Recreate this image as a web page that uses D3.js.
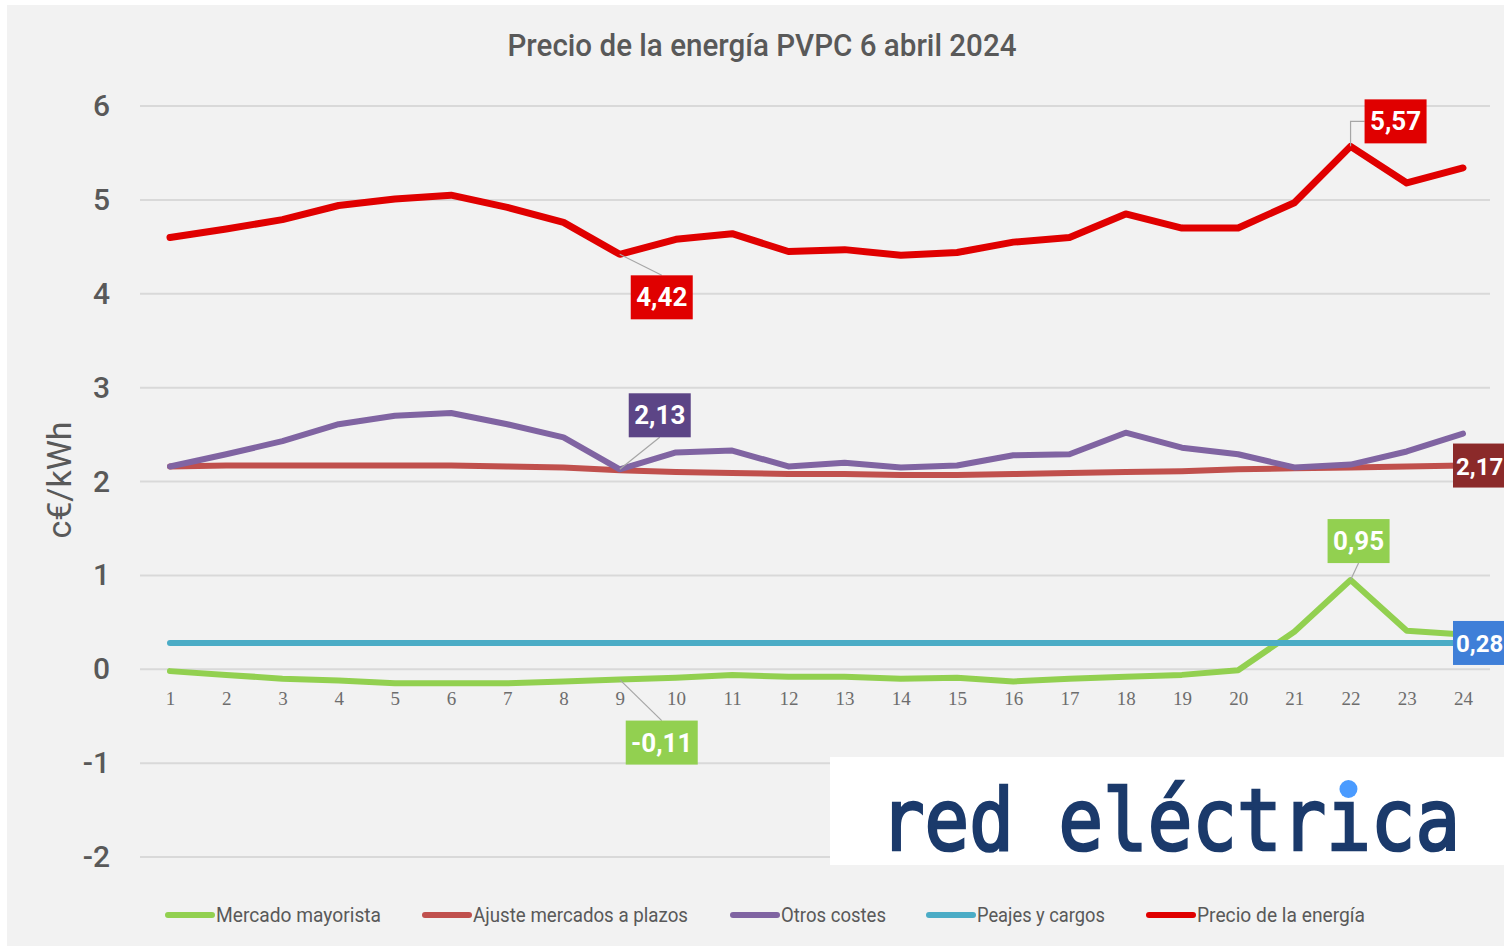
<!DOCTYPE html>
<html>
<head>
<meta charset="utf-8">
<script src="https://cdn.jsdelivr.net/npm/d3@7"></script>
<style>
  body { margin: 0; background: #fff; }
  svg { display: block; }
  text { font-family: "Liberation Sans Narrow", "Roboto", sans-serif; }
</style>
</head>
<body>
<svg id="chart" width="1504" height="946"></svg>
<script>
// datos (c€/kWh por hora)
var horas = [1,2,3,4,5,6,7,8,9,10,11,12,13,14,15,16,17,18,19,20,21,22,23,24];
var mercadoMayorista = [-0.02,-0.06,-0.10,-0.12,-0.15,-0.15,-0.15,-0.13,-0.11,-0.09,-0.06,-0.08,-0.08,-0.10,-0.09,-0.13,-0.10,-0.08,-0.06,-0.01,0.40,0.95,0.41,0.37];
var ajusteMercados = [2.16,2.17,2.17,2.17,2.17,2.17,2.16,2.15,2.12,2.10,2.09,2.08,2.08,2.07,2.07,2.08,2.09,2.10,2.11,2.13,2.14,2.15,2.16,2.17];
var otrosCostes = [2.16,2.29,2.43,2.61,2.70,2.73,2.61,2.47,2.13,2.31,2.33,2.16,2.20,2.15,2.17,2.28,2.29,2.52,2.36,2.29,2.15,2.18,2.32,2.51];
var peajesCargos = [0.28,0.28,0.28,0.28,0.28,0.28,0.28,0.28,0.28,0.28,0.28,0.28,0.28,0.28,0.28,0.28,0.28,0.28,0.28,0.28,0.28,0.28,0.28,0.28];
var precioEnergia = [4.60,4.69,4.79,4.94,5.01,5.05,4.92,4.76,4.42,4.58,4.64,4.45,4.47,4.41,4.44,4.55,4.60,4.85,4.70,4.70,4.97,5.57,5.18,5.34];

var nombres = ["Mercado mayorista","Ajuste mercados a plazos","Otros costes","Peajes y cargos","Precio de la energía"];
var yTicks = [-2,-1,0,1,2,3,4,5,6];

var series = [
  {name: nombres[0], values: mercadoMayorista, color: "#92d050"},
  {name: nombres[1], values: ajusteMercados, color: "#c0504d"},
  {name: nombres[2], values: otrosCostes, color: "#8064a2"},
  {name: nombres[3], values: peajesCargos, color: "#4bacc6"},
  {name: nombres[4], values: precioEnergia, color: "#e00000"}
];

var svg = d3.select("#chart");

// fondo gris
svg.append("rect").attr("x", 7).attr("y", 5).attr("width", 1497).attr("height", 941).attr("fill", "#f2f2f2");

var x = d3.scalePoint().domain(horas).range([170, 1463]);
var y = d3.scaleLinear().domain([-2, 6]).range([857, 106]);

// lineas de rejilla
svg.append("g").selectAll("line").data(yTicks).enter().append("line")
  .attr("x1", 140).attr("x2", 1490)
  .attr("y1", function(d){ return y(d); }).attr("y2", function(d){ return y(d); })
  .attr("stroke", "#d9d9d9").attr("stroke-width", 2);

// eje Y
var gy = svg.append("g").attr("transform", "translate(140,0)")
  .call(d3.axisLeft(y).tickValues(yTicks).tickSize(0).tickPadding(30).tickFormat(function(d){ return String(d); }));
gy.select(".domain").remove();
gy.selectAll("text").attr("font-size", 30).attr("fill", "#595959").attr("font-weight", 500)
  .style("font-family", "Roboto, sans-serif");

// eje X en el cero
var gx = svg.append("g").attr("transform", "translate(0," + y(0) + ")")
  .call(d3.axisBottom(x).tickSize(0).tickPadding(22));
gx.select(".domain").remove();
gx.selectAll("text").attr("font-size", 19).attr("fill", "#6d6d6d")
  .style("font-family", "'Liberation Serif', serif");

// titulo
svg.append("text").attr("x", 762).attr("y", 56).attr("text-anchor", "middle")
  .attr("font-size", 32).attr("fill", "#595959").attr("font-weight", 500)
  .attr("textLength", 509).attr("lengthAdjust", "spacingAndGlyphs")
  .style("font-family", "Roboto, sans-serif")
  .text("Precio de la energía PVPC 6 abril 2024");

// titulo eje Y
svg.append("text").attr("transform", "translate(71,480) rotate(-90)").attr("text-anchor", "middle")
  .attr("font-size", 34).attr("fill", "#595959")
  .style("font-family", "Roboto, sans-serif")
  .text("c€/kWh");

// lineas
var line = d3.line().x(function(d, i){ return x(horas[i]); }).y(function(d){ return y(d); });
svg.append("g").selectAll("path").data(series).enter().append("path")
  .attr("d", function(s){ return line(s.values); })
  .attr("fill", "none").attr("stroke", function(s){ return s.color; })
  .attr("stroke-width", function(s, i){ return i == 4 ? 7 : 6; })
  .attr("stroke-linejoin", "round").attr("stroke-linecap", "round");

// etiquetas de datos
var etiquetas = [
  {s: 4, h: 9, dx: 42, dy: 43, fill: "#e00000", w: 62, leader: "diag", fs: 26},
  {s: 4, h: 22, dx: 45, dy: -25, fill: "#e00000", w: 62, leader: "elbow", fs: 26},
  {s: 2, h: 9, dx: 40, dy: -54, fill: "#5c4586", w: 62, leader: "diag", fs: 26},
  {s: 1, h: 24, dx: 21, dy: 0, fill: "#8b2a2a", w: 62, leader: "edge", fs: 24},
  {s: 0, h: 22, dx: 8, dy: -39, fill: "#92d050", w: 62, leader: "diag", fs: 26},
  {s: 3, h: 24, dx: 21, dy: 0, fill: "#3f7fd8", w: 62, leader: "edge", fs: 24},
  {s: 0, h: 9, dx: 42, dy: 63, fill: "#92d050", w: 72, leader: "diag", fs: 26}
];
var fmt = function(v){ return d3.format(".2f")(v).replace(".", ",").replace("\u2212", "-"); };
var gl = svg.append("g");
etiquetas.forEach(function(e){
  var v = series[e.s].values[e.h - 1];
  var px = x(e.h), py = y(v);
  var cx = px + e.dx, cy = py + e.dy;
  if (e.leader == "diag") {
    gl.append("line").attr("x1", px).attr("y1", py)
      .attr("x2", cx).attr("y2", cy + (e.dy > 0 ? -22 : 22))
      .attr("stroke", "#a6a6a6").attr("stroke-width", 1.2);
  } else if (e.leader == "elbow") {
    gl.append("polyline").attr("points", px + "," + py + " " + px + "," + cy + " " + (cx - e.w / 2) + "," + cy)
      .attr("fill", "none").attr("stroke", "#a6a6a6").attr("stroke-width", 1.2);
  }
  gl.append("rect").attr("x", cx - e.w / 2).attr("y", cy - 22).attr("width", e.w).attr("height", 44)
    .attr("fill", e.fill);
  var t = gl.append("text").attr("y", cy + 9)
    .attr("font-size", e.fs).attr("font-weight", "bold").attr("fill", "#fff")
    .text(fmt(v));
  // las etiquetas del borde derecho se alinean a la izquierda para que quepan
  if (e.leader == "edge") t.attr("x", cx - e.w / 2 + 3).attr("text-anchor", "start");
  else t.attr("x", cx).attr("text-anchor", "middle");
});

// leyenda
var leyX = [165, 422, 730, 926, 1146];
var leyW = [165, 215, 105, 128, 168];
var gLey = svg.append("g");
series.forEach(function(s, i){
  gLey.append("line").attr("x1", leyX[i] + 3).attr("x2", leyX[i] + 47).attr("y1", 915).attr("y2", 915)
    .attr("stroke", s.color).attr("stroke-width", 6).attr("stroke-linecap", "round");
  gLey.append("text").attr("x", leyX[i] + 51).attr("y", 922)
    .attr("font-size", 21).attr("fill", "#595959")
    .attr("textLength", leyW[i]).attr("lengthAdjust", "spacingAndGlyphs")
    .text(s.name);
});

// logo
svg.append("rect").attr("x", 830).attr("y", 757).attr("width", 674).attr("height", 108).attr("fill", "#fff");
svg.append("text").attr("transform", "translate(880,850) scale(1,1.22)")
  .style("font-family", "'DejaVu Sans Mono', monospace")
  .attr("font-size", 70).attr("fill", "#1b3a6b")
  .attr("stroke", "#1b3a6b").attr("stroke-width", 2.2)
  .attr("textLength", 580).attr("lengthAdjust", "spacingAndGlyphs")
  .text("red eléctrica");
svg.append("circle").attr("cx", 880 + 10.5 * 580 / 13).attr("cy", 789).attr("r", 9).attr("fill", "#4a9bff");
</script>
</body>
</html>
